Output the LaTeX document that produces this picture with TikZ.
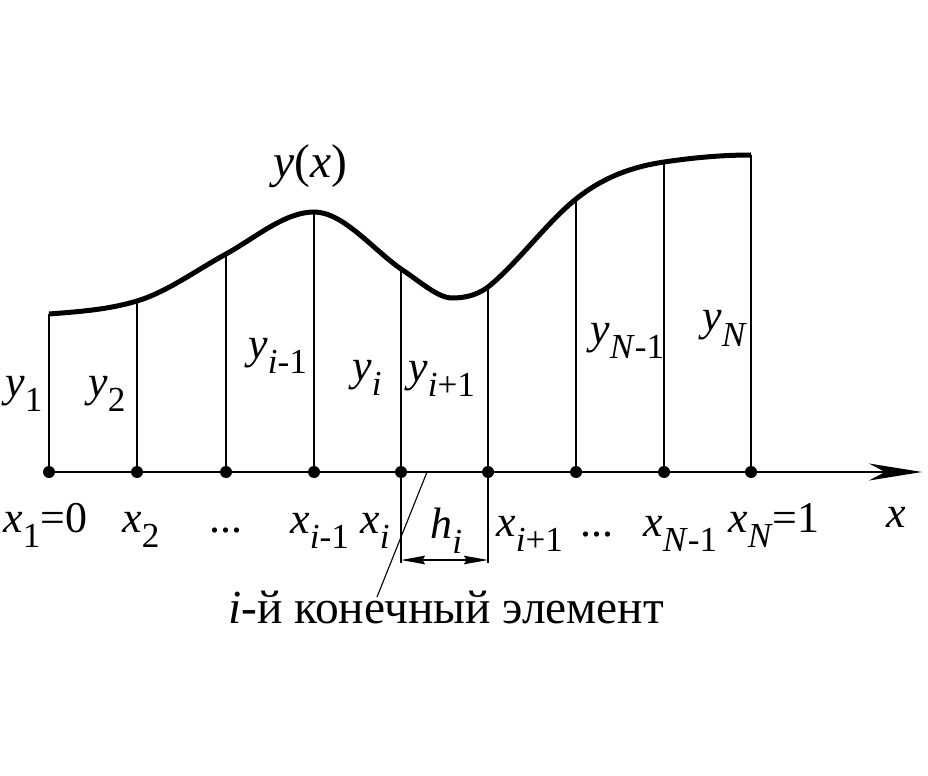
\documentclass[tikz,border=0pt]{standalone}
\usepackage{fontspec}
\setmainfont{Liberation Serif}
\usetikzlibrary{arrows.meta}
\newcommand{\sbx}[1]{\raisebox{-9pt}{\fontsize{20}{20}\selectfont #1}}
\begin{document}
\begin{tikzpicture}[x=0.02cm,y=-0.02cm,
  thinln/.style={line width=0.03cm},
  curveln/.style={line width=0.1cm},
  dotn/.style={circle,fill=black,inner sep=0pt,minimum size=0.24cm},
  lbl/.style={inner sep=0pt,anchor=base west,font=\fontsize{25}{25}\selectfont},
  dimarrow/.style={thinln,{Stealth[length=0.48cm,width=0.17cm,inset=0.05cm]}-{Stealth[length=0.48cm,width=0.17cm,inset=0.05cm]}}]
\useasboundingbox (0,0) rectangle (928,776);
% axis points
\foreach \n/\xx in {1/49,2/137,3/226,4/314,5/401,6/488,7/576,8/664,9/751}{
  \coordinate (d\n) at (\xx,472);
}
% curve points
\coordinate (c1) at (49,314);
\coordinate (c2) at (137,301);
\coordinate (c3) at (226,254);
\coordinate (c4) at (314,212);
\coordinate (c5) at (401,269);
\coordinate (cm) at (452,298);
\coordinate (c6) at (488,287);
\coordinate (c7) at (576,199);
\coordinate (c8) at (664,162);
\coordinate (c9) at (751,155);
\coordinate (tip) at (922,472);
% verticals
\foreach \n in {1,...,9}{ \draw[thinln] (d\n) -- (c\n); }
% curve
\draw[curveln] (c1) .. controls (78.3,311.7) and (107.7,309.8) .. (c2)
  .. controls (166.7,292.1) and (196.3,270.3) .. (c3)
  .. controls (255.3,237.9) and (284.7,212) .. (c4)
  .. controls (343,212) and (372,248.7) .. (c5)
  .. controls (420,281.5) and (438,298) .. (cm)
  .. controls (463,298) and (476,296) .. (c6)
  .. controls (517.3,263.5) and (546.7,222.5) .. (c7)
  .. controls (605.3,175.6) and (634.7,166.4) .. (c8)
  .. controls (693,157.7) and (722,155) .. (c9);
% axis
\draw[thinln,-{Stealth[length=1.06cm,width=0.34cm,inset=0.32cm]}] (d1) -- (tip);
\foreach \n in {1,...,9}{ \node[dotn] (p\n) at (d\n) {}; }
% dimension h_i
\coordinate (e5) at (401,563);
\coordinate (e6) at (488,563);
\draw[thinln] (d5) -- (e5);
\draw[thinln] (d6) -- (e6);
\coordinate (h5) at (401,560);
\coordinate (h6) at (488,560);
\draw[dimarrow] (h5) -- (h6);
% leader
\coordinate (la) at (427,472);
\coordinate (lb) at (377,597);
\draw[line width=0.022cm] (la) -- (lb);
% y labels
\node[lbl] (ly1) at (5,396) {\textit{y}\sbx{1}};
\node[lbl] (ly2) at (88,396) {\textit{y}\sbx{2}};
\node[lbl] (lyim) at (248,358) {\textit{y}\sbx{\textit{i}-1}};
\node[lbl] (lyi) at (352,380) {\textit{y}\sbx{\textit{i}}};
\node[lbl] (lyip) at (408,381) {\textit{y}\sbx{\textit{i}+1}};
\node[lbl] (lyNm) at (590,343) {\textit{y}\sbx{\textit{N}-1}};
\node[lbl] (lyN) at (702,331) {\textit{y}\sbx{\textit{N}}};
\node[lbl,font=\fontsize{27}{27}\selectfont] (lyx) at (273,178) {\textit{y}(\textit{x})};
% x labels
\node[lbl] (lx1) at (3,532) {\textit{x}\sbx{1}=0};
\node[lbl] (lx2) at (122,532) {\textit{x}\sbx{2}};
\node[lbl] (ld1) at (209,532) {...};
\node[lbl] (lxim) at (290,533) {\textit{x}\sbx{\textit{i}-1}};
\node[lbl] (lxi) at (360,533) {\textit{x}\sbx{\textit{i}}};
\node[lbl] (lhi) at (430,538) {\textit{h}\sbx{\textit{i}}};
\node[lbl] (lxip) at (496,536) {\textit{x}\sbx{\textit{i}+1}};
\node[lbl] (ld2) at (580,536) {...};
\node[lbl] (lxNm) at (643,536) {\textit{x}\sbx{\textit{N}-1}};
\node[lbl] (lxN) at (728,532) {\textit{x}\sbx{\textit{N}}=1};
\node[lbl] (lx) at (886,527) {\textit{x}};
% caption
\node[lbl,font=\fontsize{27}{27}\selectfont] (cap) at (228,623) {\textit{i}-й конечный элемент};
\end{tikzpicture}
\end{document}
